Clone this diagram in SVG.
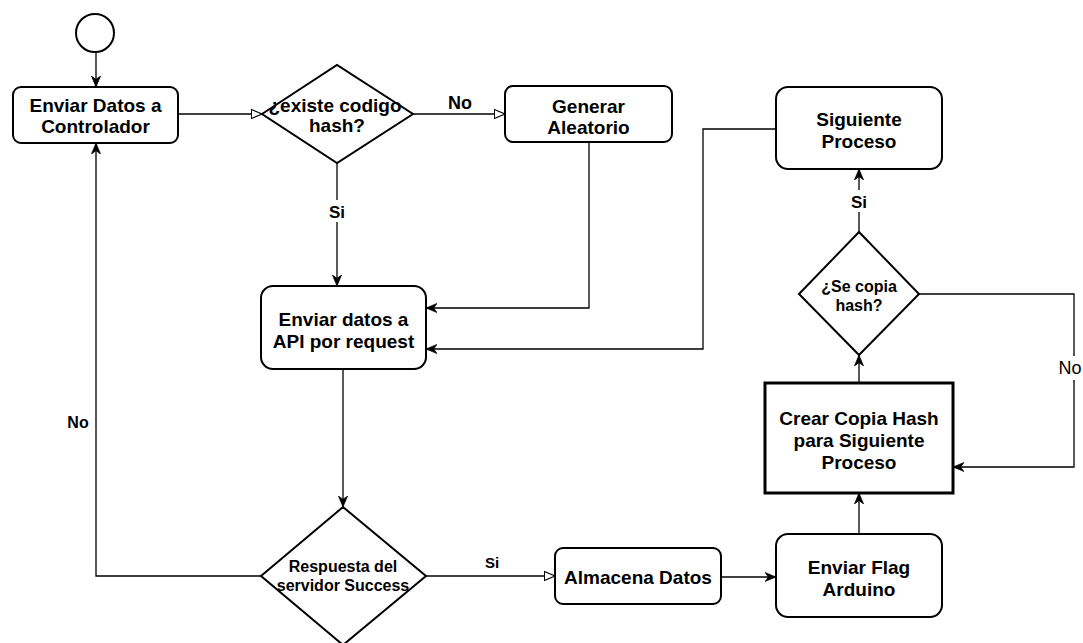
<svg xmlns="http://www.w3.org/2000/svg" width="1083" height="643" viewBox="0 0 1083 643">
<defs>
<style>
.node{fill:#fff;stroke:#000;stroke-width:2}
.thick{fill:#fff;stroke:#000;stroke-width:3}
.t{font-family:"Liberation Sans",Arial,sans-serif;font-weight:bold;font-size:19px;text-anchor:middle;fill:#000}
.t16{font-family:"Liberation Sans",Arial,sans-serif;font-weight:bold;font-size:16px;text-anchor:middle;fill:#000}
.lbl{font-family:"Liberation Sans",Arial,sans-serif;font-weight:bold;text-anchor:middle;fill:#000}
.edge{fill:none;stroke:#000;stroke-width:1.3}
.arr{marker-end:url(#classic)}
.open{marker-end:url(#block)}
</style>
<marker id="classic" viewBox="0 0 10 10" refX="10" refY="5" markerWidth="11" markerHeight="11" markerUnits="userSpaceOnUse" orient="auto">
<path d="M0,0.8 L10,5 L0,9.2 L3,5 Z" fill="#000" stroke="#000" stroke-width="0.6"/>
</marker>
<marker id="block" viewBox="0 0 12 12" refX="11.3" refY="6" markerWidth="12" markerHeight="12" markerUnits="userSpaceOnUse" orient="auto">
<path d="M0.7,1.5 L11.3,6 L0.7,10.5 Z" fill="#fff" stroke="#000" stroke-width="1.1"/>
</marker>
</defs>

<g id="connectors">
<path class="edge arr" d="M96,52 L96,87"/>
<path class="edge open" d="M178,114 L262,114"/>
<path class="edge open" d="M413,114 L505,114"/>
<path class="edge arr" d="M337,163 L337,286"/>
<path class="edge arr" d="M589,142 L589,308 L426,308"/>
<path class="edge arr" d="M776,129 L703,129 L703,349 L426,349"/>
<path class="edge arr" d="M343,369 L343,507"/>
<path class="edge arr" d="M261,576 L96,576 L96,143"/>
<path class="edge open" d="M426,576 L555,576"/>
<path class="edge arr" d="M721,577 L776,577"/>
<path class="edge arr" d="M859,534 L859,493"/>
<path class="edge arr" d="M859,383 L859,355"/>
<path class="edge arr" d="M919,294 L1074,294 L1074,467 L953,467"/>
<path class="edge arr" d="M859,232 L859,169"/>
<rect x="322" y="200" width="30" height="22" fill="#fff"/>
<text class="lbl" x="337" y="218" font-size="17">Si</text>
<text class="lbl" x="460" y="109" font-size="18">No</text>
<text class="lbl" x="78" y="428" font-size="16">No</text>
<text class="lbl" x="492" y="568" font-size="15">Si</text>
<rect x="847" y="190" width="26" height="22" fill="#fff"/>
<text class="lbl" x="859" y="208" font-size="17">Si</text>
<rect x="1056" y="356" width="30" height="24" fill="#fff"/>
<text x="1070" y="374" font-family="'Liberation Sans',Arial,sans-serif" font-size="18" text-anchor="middle" fill="#000">No</text>
</g>

<g id="start">
<circle class="node" cx="95" cy="33" r="19"/>
</g>

<g id="enviar-datos-controlador">
<rect class="node" x="13" y="87" width="165" height="56" rx="8"/>
<text class="t" x="95.5" y="112">Enviar Datos a</text>
<text class="t" x="95.5" y="133">Controlador</text>
</g>

<g id="existe-hash">
<path class="node" d="M262,114 L337,65 L413,114 L337,163 Z"/>
<text class="t" x="335" y="112">¿existe codigo</text>
<text class="t" x="337" y="132">hash?</text>
</g>

<g id="generar-aleatorio">
<rect class="node" x="505" y="86" width="167" height="56" rx="8"/>
<text class="t" x="588.5" y="113">Generar</text>
<text class="t" x="588.5" y="134">Aleatorio</text>
</g>

<g id="siguiente-proceso">
<rect class="node" x="776" y="87" width="166" height="82" rx="12"/>
<text class="t" x="859" y="126">Siguiente</text>
<text class="t" x="859" y="148">Proceso</text>
</g>

<g id="enviar-api">
<rect class="node" x="261" y="286" width="165" height="83" rx="12"/>
<text class="t" x="343.5" y="326">Enviar datos a</text>
<text class="t" x="343.5" y="348">API por request</text>
</g>

<g id="respuesta-servidor">
<path class="node" d="M261,576 L343,507 L426,576 L343,645 Z"/>
<text class="t16" x="343" y="572">Respuesta del</text>
<text class="t16" x="343" y="591">servidor Success</text>
</g>

<g id="almacena-datos">
<rect class="node" x="555" y="548" width="166" height="56" rx="8"/>
<text class="t" x="638" y="584">Almacena Datos</text>
</g>

<g id="enviar-flag">
<rect class="node" x="776" y="534" width="166" height="83" rx="12"/>
<text class="t" x="859" y="574">Enviar Flag</text>
<text class="t" x="859" y="596">Arduino</text>
</g>

<g id="crear-copia">
<rect class="thick" x="765" y="383" width="188" height="110"/>
<text class="t" x="859" y="425">Crear Copia Hash</text>
<text class="t" x="859" y="447">para Siguiente</text>
<text class="t" x="859" y="469">Proceso</text>
</g>

<g id="se-copia-hash">
<path class="node" d="M799,294 L859,232 L919,294 L859,355 Z"/>
<text class="t16" x="859" y="292">¿Se copia</text>
<text class="t16" x="859" y="311">hash?</text>
</g>
</svg>
